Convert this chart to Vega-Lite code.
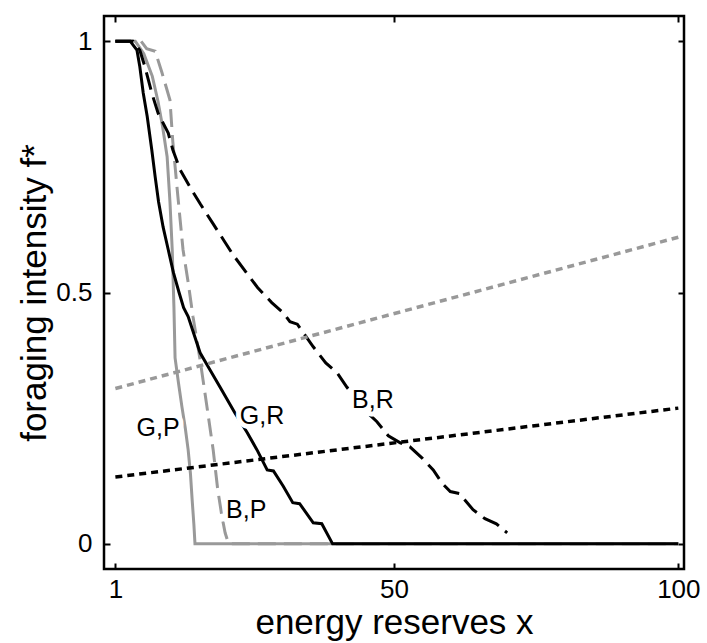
{
  "$schema": "https://vega.github.io/schema/vega-lite/v6.json",
  "width": 580,
  "height": 553,
  "autosize": "none",
  "padding": {"left": 104, "top": 16, "right": 23, "bottom": 74},
  "background": "white",
  "config": {
    "view": {"stroke": "black", "strokeWidth": 2.5},
    "font": "Liberation Sans",
    "axis": {
      "domain": false,
      "grid": false,
      "ticks": true,
      "tickColor": "black",
      "tickWidth": 2,
      "tickSize": -6,
      "labelFont": "Liberation Sans",
      "labelFontSize": 26,
      "labelColor": "black",
      "titleFont": "Liberation Sans",
      "titleFontSize": 35,
      "titleFontWeight": "normal",
      "titleColor": "black"
    }
  },
  "datasets": {
    "curves": [
      {"series": "GP", "x": 1, "f": 1}, {"series": "GP", "x": 4.5, "f": 1}, {"series": "GP", "x": 6, "f": 0.975}, {"series": "GP", "x": 7.5, "f": 0.93}, {"series": "GP", "x": 8.5, "f": 0.88}, {"series": "GP", "x": 9.3, "f": 0.83}, {"series": "GP", "x": 10.1, "f": 0.77}, {"series": "GP", "x": 10.6, "f": 0.68}, {"series": "GP", "x": 11.0, "f": 0.585}, {"series": "GP", "x": 11.3, "f": 0.47}, {"series": "GP", "x": 11.5, "f": 0.37}, {"series": "GP", "x": 12.1, "f": 0.32}, {"series": "GP", "x": 12.7, "f": 0.273}, {"series": "GP", "x": 13.3, "f": 0.23}, {"series": "GP", "x": 13.8, "f": 0.187}, {"series": "GP", "x": 14.2, "f": 0.14}, {"series": "GP", "x": 14.5, "f": 0.088}, {"series": "GP", "x": 14.8, "f": 0.04}, {"series": "GP", "x": 15.0, "f": 0}, {"series": "GP", "x": 100, "f": 0},
      {"series": "BP", "x": 1, "f": 1}, {"series": "BP", "x": 5.5, "f": 1}, {"series": "BP", "x": 6.5, "f": 0.985}, {"series": "BP", "x": 8, "f": 0.98}, {"series": "BP", "x": 9.2, "f": 0.937}, {"series": "BP", "x": 10.6, "f": 0.883}, {"series": "BP", "x": 11.1, "f": 0.8}, {"series": "BP", "x": 12.0, "f": 0.69}, {"series": "BP", "x": 12.9, "f": 0.585}, {"series": "BP", "x": 13.8, "f": 0.52}, {"series": "BP", "x": 14.65, "f": 0.452}, {"series": "BP", "x": 15.9, "f": 0.366}, {"series": "BP", "x": 17.1, "f": 0.273}, {"series": "BP", "x": 18.2, "f": 0.187}, {"series": "BP", "x": 19.0, "f": 0.108}, {"series": "BP", "x": 19.75, "f": 0.054}, {"series": "BP", "x": 20.3, "f": 0.022}, {"series": "BP", "x": 20.8, "f": 0.004}, {"series": "BP", "x": 21, "f": 0}, {"series": "BP", "x": 100, "f": 0},
      {"series": "GR", "x": 1, "f": 1}, {"series": "GR", "x": 3.6, "f": 1}, {"series": "GR", "x": 4.8, "f": 0.982}, {"series": "GR", "x": 5.3, "f": 0.949}, {"series": "GR", "x": 5.9, "f": 0.897}, {"series": "GR", "x": 6.6, "f": 0.85}, {"series": "GR", "x": 7.4, "f": 0.784}, {"series": "GR", "x": 8.0, "f": 0.73}, {"series": "GR", "x": 8.6, "f": 0.68}, {"series": "GR", "x": 9.4, "f": 0.63}, {"series": "GR", "x": 10.3, "f": 0.585}, {"series": "GR", "x": 11.2, "f": 0.54}, {"series": "GR", "x": 12.2, "f": 0.5}, {"series": "GR", "x": 13.0, "f": 0.47}, {"series": "GR", "x": 13.8, "f": 0.452}, {"series": "GR", "x": 15.9, "f": 0.38}, {"series": "GR", "x": 17.5, "f": 0.349}, {"series": "GR", "x": 19.5, "f": 0.31}, {"series": "GR", "x": 22.0, "f": 0.261}, {"series": "GR", "x": 24.2, "f": 0.221}, {"series": "GR", "x": 26.0, "f": 0.185}, {"series": "GR", "x": 27.7, "f": 0.147}, {"series": "GR", "x": 28.8, "f": 0.145}, {"series": "GR", "x": 30.5, "f": 0.115}, {"series": "GR", "x": 32.2, "f": 0.082}, {"series": "GR", "x": 33.4, "f": 0.08}, {"series": "GR", "x": 35.8, "f": 0.042}, {"series": "GR", "x": 37.3, "f": 0.04}, {"series": "GR", "x": 39.2, "f": 0}, {"series": "GR", "x": 100, "f": 0},
      {"series": "BR", "x": 1, "f": 1}, {"series": "BR", "x": 4.1, "f": 1}, {"series": "BR", "x": 5.3, "f": 0.982}, {"series": "BR", "x": 6.2, "f": 0.949}, {"series": "BR", "x": 7.4, "f": 0.897}, {"series": "BR", "x": 8.5, "f": 0.857}, {"series": "BR", "x": 10.3, "f": 0.817}, {"series": "BR", "x": 11.1, "f": 0.784}, {"series": "BR", "x": 12.4, "f": 0.744}, {"series": "BR", "x": 14.1, "f": 0.71}, {"series": "BR", "x": 16, "f": 0.675}, {"series": "BR", "x": 18, "f": 0.64}, {"series": "BR", "x": 20, "f": 0.605}, {"series": "BR", "x": 21.7, "f": 0.575}, {"series": "BR", "x": 24, "f": 0.54}, {"series": "BR", "x": 26, "f": 0.51}, {"series": "BR", "x": 28.5, "f": 0.48}, {"series": "BR", "x": 30.5, "f": 0.46}, {"series": "BR", "x": 31.7, "f": 0.442}, {"series": "BR", "x": 33, "f": 0.437}, {"series": "BR", "x": 35.8, "f": 0.392}, {"series": "BR", "x": 38, "f": 0.36}, {"series": "BR", "x": 40, "f": 0.34}, {"series": "BR", "x": 41.7, "f": 0.312}, {"series": "BR", "x": 44.5, "f": 0.27}, {"series": "BR", "x": 47, "f": 0.243}, {"series": "BR", "x": 49, "f": 0.215}, {"series": "BR", "x": 51.1, "f": 0.201}, {"series": "BR", "x": 52.8, "f": 0.193}, {"series": "BR", "x": 55, "f": 0.17}, {"series": "BR", "x": 56.9, "f": 0.147}, {"series": "BR", "x": 58.5, "f": 0.12}, {"series": "BR", "x": 59.9, "f": 0.104}, {"series": "BR", "x": 61.5, "f": 0.1}, {"series": "BR", "x": 63.9, "f": 0.068}, {"series": "BR", "x": 66, "f": 0.05}, {"series": "BR", "x": 68, "f": 0.04}, {"series": "BR", "x": 69.9, "f": 0.022},
      {"series": "Gdot", "x": 1, "f": 0.309}, {"series": "Gdot", "x": 100, "f": 0.61},
      {"series": "Bdot", "x": 1, "f": 0.133}, {"series": "Bdot", "x": 100, "f": 0.27}
    ],
    "labels": [
      {"label": "G,P", "x": 8.5, "f": 0.231},
      {"label": "G,R", "x": 26.8, "f": 0.255},
      {"label": "B,P", "x": 24.0, "f": 0.068},
      {"label": "B,R", "x": 46.3, "f": 0.287}
    ]
  },
  "resolve": {"axis": {"x": "independent", "y": "independent"}},
  "layer": [
    {
      "data": {"name": "curves"},
      "transform": [{"filter": "datum.series === 'GP'"}],
      "mark": {"type": "line", "color": "#999999", "strokeWidth": 3, "clip": true},
      "encoding": {
        "x": {"field": "x", "type": "quantitative", "scale": {"domain": [-1, 101], "nice": false, "zero": false},
              "axis": {"orient": "bottom", "values": [1, 50, 100], "title": "energy reserves x", "labelPadding": 13, "titlePadding": 3}},
        "y": {"field": "f", "type": "quantitative", "scale": {"domain": [-0.05, 1.05], "nice": false, "zero": false},
              "axis": {"orient": "left", "values": [0, 0.5, 1], "format": "~g", "title": "foraging intensity f*", "labelPadding": 18, "titlePadding": 3}}
      }
    },
    {
      "data": {"name": "curves"},
      "transform": [{"filter": "datum.series === 'BP'"}],
      "mark": {"type": "line", "color": "#999999", "strokeWidth": 3, "strokeDash": [18, 8], "clip": true},
      "encoding": {
        "x": {"field": "x", "type": "quantitative", "axis": {"orient": "top", "values": [1, 50, 100], "labels": false, "title": null}},
        "y": {"field": "f", "type": "quantitative", "axis": {"orient": "right", "values": [0, 0.5, 1], "labels": false, "title": null}}
      }
    },
    {
      "data": {"name": "curves"},
      "transform": [{"filter": "datum.series === 'GR'"}],
      "mark": {"type": "line", "color": "black", "strokeWidth": 3, "clip": true},
      "encoding": {
        "x": {"field": "x", "type": "quantitative", "axis": null},
        "y": {"field": "f", "type": "quantitative", "axis": null}
      }
    },
    {
      "data": {"name": "curves"},
      "transform": [{"filter": "datum.series === 'BR'"}],
      "mark": {"type": "line", "color": "black", "strokeWidth": 3, "strokeDash": [18, 8], "clip": true},
      "encoding": {
        "x": {"field": "x", "type": "quantitative", "axis": null},
        "y": {"field": "f", "type": "quantitative", "axis": null}
      }
    },
    {
      "data": {"name": "curves"},
      "transform": [{"filter": "datum.series === 'Gdot'"}],
      "mark": {"type": "line", "color": "#999999", "strokeWidth": 3.5, "strokeDash": [7, 5], "clip": true},
      "encoding": {
        "x": {"field": "x", "type": "quantitative", "axis": null},
        "y": {"field": "f", "type": "quantitative", "axis": null}
      }
    },
    {
      "data": {"name": "curves"},
      "transform": [{"filter": "datum.series === 'Bdot'"}],
      "mark": {"type": "line", "color": "black", "strokeWidth": 3.5, "strokeDash": [7, 5], "clip": true},
      "encoding": {
        "x": {"field": "x", "type": "quantitative", "axis": null},
        "y": {"field": "f", "type": "quantitative", "axis": null}
      }
    },
    {
      "data": {"name": "labels"},
      "mark": {"type": "text", "font": "Liberation Sans", "fontSize": 25, "color": "white", "stroke": "white", "strokeWidth": 10, "strokeJoin": "round", "align": "center", "baseline": "middle"},
      "encoding": {
        "x": {"field": "x", "type": "quantitative", "axis": null},
        "y": {"field": "f", "type": "quantitative", "axis": null},
        "text": {"field": "label"}
      }
    },
    {
      "data": {"name": "labels"},
      "mark": {"type": "text", "font": "Liberation Sans", "fontSize": 25, "color": "black", "align": "center", "baseline": "middle"},
      "encoding": {
        "x": {"field": "x", "type": "quantitative", "axis": null},
        "y": {"field": "f", "type": "quantitative", "axis": null},
        "text": {"field": "label"}
      }
    }
  ]
}
